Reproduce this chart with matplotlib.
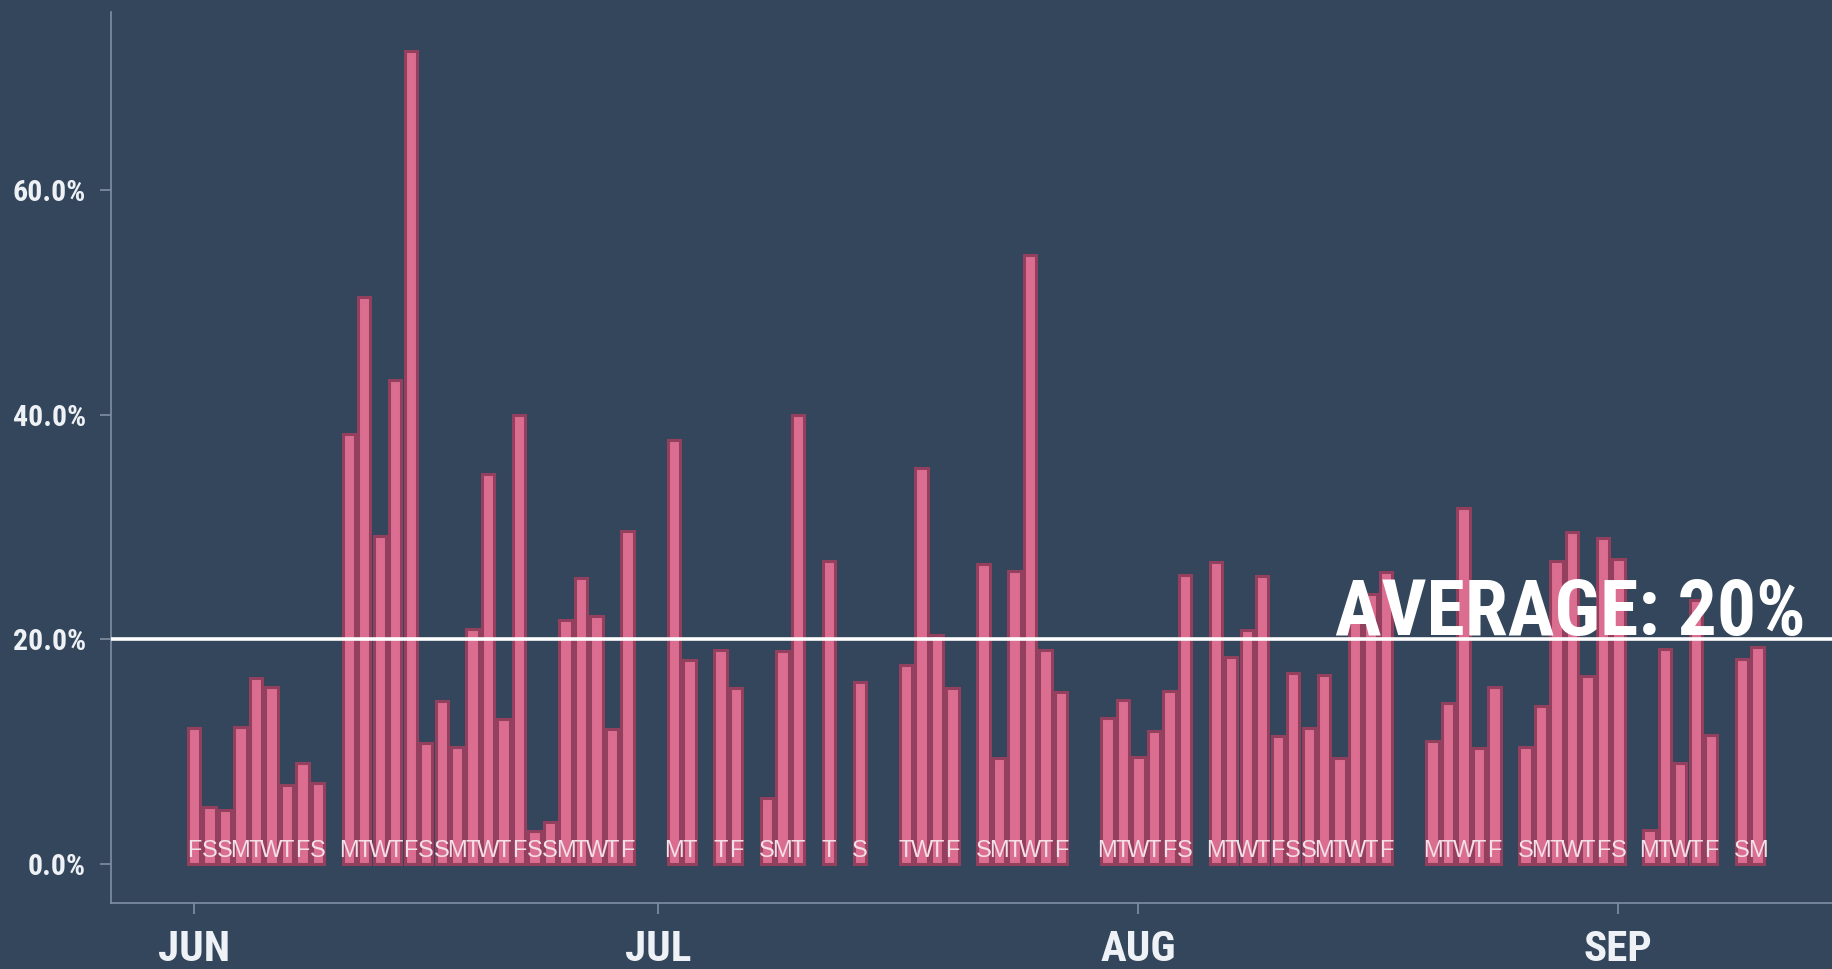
import matplotlib
matplotlib.use("Agg")
import matplotlib.pyplot as plt
from matplotlib import font_manager
import pandas as pd

dates = ["06-01", "06-02", "06-03", "06-04", "06-05", "06-06", "06-07", "06-08", "06-09",
         "06-11", "06-12", "06-13", "06-14", "06-15", "06-16", "06-17", "06-18", "06-19",
         "06-20", "06-21", "06-22", "06-23", "06-24", "06-25", "06-26", "06-27", "06-28", "06-29",
         "07-02", "07-03", "07-05", "07-06", "07-08", "07-09", "07-10", "07-12", "07-14",
         "07-17", "07-18", "07-19", "07-20", "07-22", "07-23", "07-24", "07-25", "07-26", "07-27",
         "07-30", "07-31", "08-01", "08-02", "08-03", "08-04",
         "08-06", "08-07", "08-08", "08-09", "08-10", "08-11", "08-12", "08-13", "08-14",
         "08-15", "08-16", "08-17",
         "08-20", "08-21", "08-22", "08-23", "08-24",
         "08-26", "08-27", "08-28", "08-29", "08-30", "08-31", "09-01",
         "09-03", "09-04", "09-05", "09-06", "09-07", "09-09", "09-10"]
values = [12.1, 5.0, 4.8, 12.2, 16.5, 15.7, 7.0, 9.0, 7.2,
          38.3, 50.5, 29.2, 43.1, 72.4, 10.7, 14.5, 10.4, 20.9,
          34.7, 12.9, 40.0, 2.9, 3.7, 21.7, 25.4, 22.1, 12.0, 29.6,
          37.7, 18.1, 19.0, 15.6, 5.8, 18.9, 40.0, 27.0, 16.2,
          17.7, 35.2, 20.4, 15.6, 26.7, 9.4, 26.1, 54.2, 19.0, 15.3,
          13.0, 14.6, 9.5, 11.8, 15.4, 25.7,
          26.9, 18.4, 20.8, 25.6, 11.4, 17.0, 12.1, 16.8, 9.4,
          22.0, 24.0, 26.0,
          10.9, 14.3, 31.7, 10.3, 15.7,
          10.4, 14.0, 27.0, 29.5, 16.7, 29.0, 27.1,
          3.0, 19.1, 9.0, 23.5, 11.5, 18.2, 19.3]
average = 20
month_ticks = ["2018-06-01", "2018-07-01", "2018-08-01", "2018-09-01"]
month_labels = ["JUN", "JUL", "AUG", "SEP"]
ytick_vals = [0, 20, 40, 60]

bg = "#34465b"
bar_fill = "#db6d91"
bar_edge = "#93405f"
axis_col = "#7f90a4"
text_col = "#eef1f5"

# pick a narrow font if one is around
installed = {f.name for f in font_manager.fontManager.ttflist}
narrow = "DejaVu Sans"
for cand in ["Liberation Sans Narrow", "Roboto Condensed", "Open Sans Condensed"]:
    if cand in installed:
        narrow = cand
        break
plt.rcParams['font.family'] = [narrow, 'DejaVu Sans']
letter_font = "Liberation Sans" if "Liberation Sans" in installed else "DejaVu Sans"

days = pd.to_datetime(["2018-" + d for d in dates])
day_letters = [d.strftime("%a")[0] for d in days]
start = pd.Timestamp("2018-06-01")

fig = plt.figure(figsize=(18.32, 9.69), dpi=100, facecolor=bg)
ax = fig.add_axes([0.0606, 0.068, 0.9394, 0.92])
ax.set_facecolor(bg)

ax.bar(days, values, width=0.8, color=bar_fill, edgecolor=bar_edge, linewidth=2.2, zorder=2)

for d, letter in zip(days, day_letters):
    ax.text(d, 0.55, letter, ha="center", va="baseline", fontsize=17,
            family=letter_font, color="#f3dfe7", zorder=3)

ax.axhline(average, color="white", linewidth=2.6, zorder=4)
ax.text(start + pd.Timedelta(days=104.1), average + 0.35,
        "AVERAGE: %d%%" % average, ha="right", va="baseline", fontsize=56,
        fontweight="bold", color="white", zorder=5)

ax.set_xlim(start - pd.Timedelta(days=5.36), start + pd.Timedelta(days=105.8))
ax.set_ylim(-3.52, 75.9)

ax.set_yticks(ytick_vals)
ax.set_yticklabels(["%.1f%%" % v for v in ytick_vals], fontsize=21.5,
                   fontweight="bold", color=text_col)
ax.set_xticks(pd.to_datetime(month_ticks))
ax.set_xticklabels(month_labels, fontsize=31, fontweight="bold", color=text_col)

ax.tick_params(axis="y", length=8, width=1.2, color=axis_col, pad=10)
ax.tick_params(axis="x", length=8, width=1.2, color=axis_col, pad=11)

for side in ["top", "right"]:
    ax.spines[side].set_visible(False)
for side in ["left", "bottom"]:
    ax.spines[side].set_color(axis_col)
    ax.spines[side].set_linewidth(1.2)

fig.savefig("out.png", dpi=100, facecolor=bg)
